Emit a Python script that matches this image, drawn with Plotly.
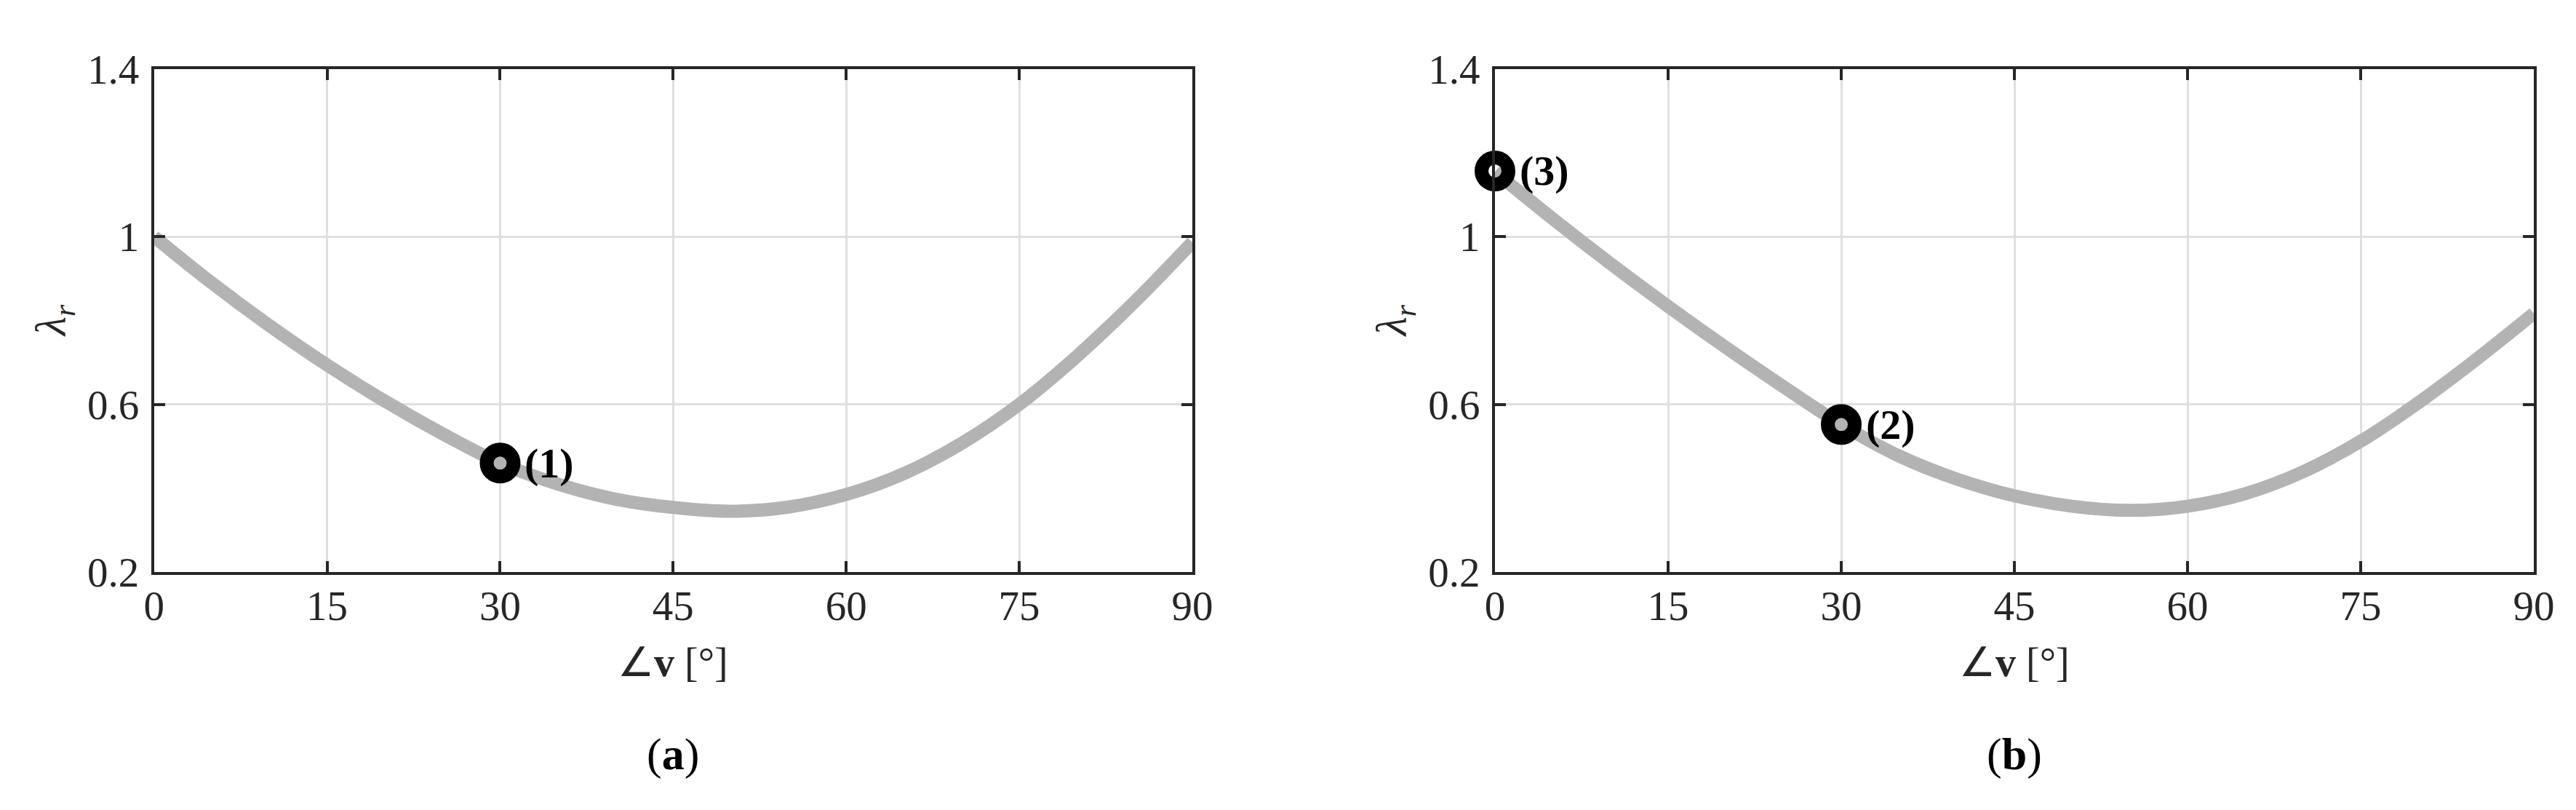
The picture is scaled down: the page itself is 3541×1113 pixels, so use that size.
import plotly.graph_objects as go

# ---- data ----
angle_deg = [0, 5, 10, 15, 20, 25, 30, 35, 40, 45, 50, 55, 60, 65, 70, 75, 80, 85, 90]
lambda_a = [1.000, 0.890, 0.788, 0.694, 0.608, 0.530, 0.460, 0.410, 0.374, 0.354, 0.345,
            0.355, 0.385, 0.435, 0.507, 0.600, 0.715, 0.845, 0.987]
lambda_b = [1.155, 1.043, 0.936, 0.834, 0.736, 0.642, 0.552, 0.477, 0.422, 0.382, 0.357,
            0.347, 0.357, 0.387, 0.439, 0.512, 0.604, 0.707, 0.817]

points_a_x = [30]
points_a_y = [0.460]
points_a_lbl = ["(1)"]
points_b_x = [30, 0]
points_b_y = [0.552, 1.157]
points_b_lbl = ["(2)", "(3)"]

x_ticks = [0, 15, 30, 45, 60, 75, 90]
y_ticks = [0.2, 0.6, 1.0, 1.4]
y_tick_text = ["0.2", "0.6", "1", "1.4"]
captions = ["(<b>a</b>)", "(<b>b</b>)"]

W, H = 3541, 1113
SHIFT = 8  # page body margin offset
FONT = "Liberation Serif"
AX = "#262626"
CURVE = "#b3b3b3"

fig = go.Figure()

panels = [
    dict(xa="x", ya="y", ys=lambda_a, px=points_a_x, py=points_a_y, pl=points_a_lbl),
    dict(xa="x2", ya="y2", ys=lambda_b, px=points_b_x, py=points_b_y, pl=points_b_lbl),
]

for p in panels:
    fig.add_trace(go.Scatter(
        x=angle_deg, y=p["ys"], mode="lines", xaxis=p["xa"], yaxis=p["ya"],
        line=dict(color=CURVE, width=18, shape="spline", smoothing=1.0),
        cliponaxis=False, showlegend=False, hoverinfo="skip"))
    fig.add_trace(go.Scatter(
        x=p["px"], y=p["py"], mode="markers", xaxis=p["xa"], yaxis=p["ya"],
        marker=dict(symbol="circle-open", size=37, color="black",
                    line=dict(color="black", width=19)),
        cliponaxis=False, showlegend=False, hoverinfo="skip"))
    for xv, yv, lb in zip(p["px"], p["py"], p["pl"]):
        fig.add_annotation(
            x=xv, y=yv, xref=p["xa"], yref=p["ya"], text="<b>" + lb + "</b>",
            showarrow=False, xanchor="left", yanchor="middle", xshift=32,
            font=dict(family=FONT, size=58, color="black"))

# plot area pixel boxes (page coordinates)
left_a, right_a = 211.7, 1639.0
left_b, right_b = 2055.0, 3483.0
top, bottom = 95.0, 786.0


def px_x(v):
    return (v - SHIFT) / W


def px_y(v):
    return (H - (v - SHIFT)) / H


axis_common = dict(
    showline=True, linecolor=AX, linewidth=4, mirror="ticks",
    ticks="inside", ticklen=15, tickwidth=4, tickcolor=AX,
    showgrid=True, gridcolor="#dfdfdf", gridwidth=3, zeroline=False,
    automargin=False,
    tickfont=dict(family=FONT, size=57, color=AX),
)

yd = [px_y(bottom), px_y(top)]
fig.update_layout(
    width=W, height=H, autosize=False,
    margin=dict(l=0, r=0, t=0, b=0, pad=0, autoexpand=False),
    paper_bgcolor="white", plot_bgcolor="white",
    xaxis=dict(domain=[px_x(left_a), px_x(right_a)], range=[0, 90], tickvals=x_ticks,
               anchor="y", ticklabelstandoff=-6, **axis_common),
    yaxis=dict(domain=yd, range=[0.2, 1.4], tickvals=y_ticks, ticktext=y_tick_text,
               anchor="x", ticklabelstandoff=5, **axis_common),
    xaxis2=dict(domain=[px_x(left_b), px_x(right_b)], range=[0, 90], tickvals=x_ticks,
                anchor="y2", ticklabelstandoff=-6, **axis_common),
    yaxis2=dict(domain=yd, range=[0.2, 1.4], tickvals=y_ticks, ticktext=y_tick_text,
                anchor="x2", ticklabelstandoff=5, **axis_common),
)

offset = left_b - left_a
for i, cx in enumerate([(left_a + right_a) / 2, (left_b + right_b) / 2]):
    # x-axis title
    fig.add_annotation(x=px_x(cx), y=px_y(910), xref="paper", yref="paper",
                       text="∠<b>v</b> [°]", showarrow=False,
                       xanchor="center", yanchor="middle",
                       font=dict(family=FONT, size=56, color=AX))
    # y-axis title
    fig.add_annotation(x=px_x(74 + i * offset), y=px_y(441), xref="paper", yref="paper",
                       text="<i>λ</i><sub><i>r</i></sub>", showarrow=False, textangle=-90,
                       xanchor="center", yanchor="middle",
                       font=dict(family=FONT, size=60, color=AX))
    # caption
    fig.add_annotation(x=px_x(cx), y=px_y(1036), xref="paper", yref="paper",
                       text=captions[i], showarrow=False,
                       xanchor="center", yanchor="middle",
                       font=dict(family=FONT, size=62, color="black"))

fig.write_html("out.html")
